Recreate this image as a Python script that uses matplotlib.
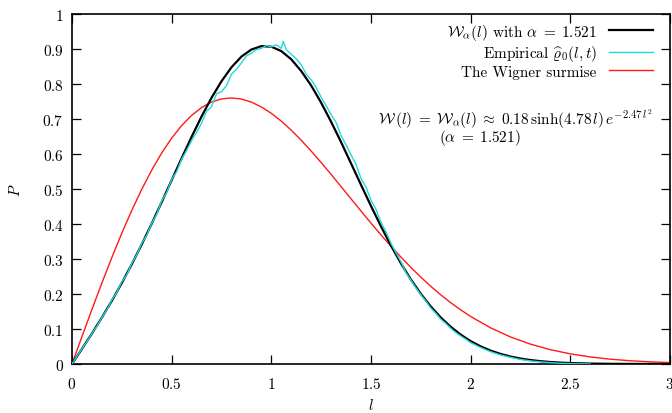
import matplotlib
matplotlib.use("Agg")
import matplotlib.pyplot as plt
import numpy as np

plt.rcParams['mathtext.fontset'] = 'cm'
plt.rcParams['font.family'] = ['cmr10', 'DejaVu Serif']
plt.rcParams['axes.formatter.use_mathtext'] = True

# Model curve W_alpha(l)
l_model = [0.00, 0.05, 0.10, 0.15, 0.20, 0.25, 0.30, 0.35, 0.40, 0.45,
           0.50, 0.55, 0.60, 0.65, 0.70, 0.75, 0.80, 0.85, 0.90, 0.95,
           1.00, 1.05, 1.10, 1.15, 1.20, 1.25, 1.30, 1.35, 1.40, 1.45,
           1.50, 1.55, 1.60, 1.65, 1.70, 1.75, 1.80, 1.85, 1.90, 1.95,
           2.00, 2.05, 2.10, 2.15, 2.20, 2.25, 2.30, 2.35, 2.40, 2.45,
           2.50, 2.60, 2.70, 2.80, 2.90, 3.00]
w_model = [0.0, 0.0432, 0.0872, 0.1328, 0.1808, 0.2315, 0.2852, 0.3419, 0.4012, 0.4626,
           0.5252, 0.5878, 0.6490, 0.7072, 0.7607, 0.8079, 0.8477, 0.8784, 0.8985, 0.9082,
           0.9066, 0.8940, 0.8705, 0.8369, 0.7955, 0.7464, 0.6920, 0.6338, 0.5729, 0.5117,
           0.4514, 0.3934, 0.3386, 0.2877, 0.2416, 0.2004, 0.1642, 0.1329, 0.1062, 0.0838,
           0.0653, 0.0503, 0.0383, 0.0288, 0.0213, 0.0156, 0.0113, 0.0081, 0.0057, 0.0040,
           0.0027, 0.0012, 0.0005, 0.0002, 0.0001, 0.0]

# Empirical curve
l_emp = [0.000, 0.025, 0.050, 0.075, 0.100, 0.125, 0.150, 0.175, 0.200, 0.225,
         0.250, 0.275, 0.300, 0.325, 0.350, 0.375, 0.400, 0.425, 0.450, 0.475,
         0.500, 0.525, 0.550, 0.575, 0.600, 0.625, 0.650, 0.675, 0.700, 0.725,
         0.750, 0.775, 0.800, 0.825, 0.850, 0.875, 0.900, 0.925, 0.950, 0.975,
         1.000, 1.025, 1.050, 1.060, 1.075, 1.100, 1.125, 1.150, 1.175, 1.200,
         1.225, 1.250, 1.275, 1.300, 1.325, 1.350, 1.375, 1.400, 1.425, 1.450,
         1.475, 1.500, 1.525, 1.550, 1.575, 1.600, 1.625, 1.650, 1.675, 1.700,
         1.725, 1.750, 1.775, 1.800, 1.825, 1.850, 1.875, 1.900, 1.925, 1.950,
         1.975, 2.000, 2.050, 2.100, 2.150, 2.200, 2.250, 2.300, 2.350, 2.400,
         2.450, 2.500, 2.600]
p_emp = [0.000, 0.022, 0.044, 0.064, 0.088, 0.108, 0.133, 0.155, 0.183, 0.205,
         0.235, 0.255, 0.288, 0.312, 0.345, 0.368, 0.402, 0.428, 0.466, 0.490,
         0.527, 0.550, 0.585, 0.610, 0.638, 0.662, 0.688, 0.722, 0.735, 0.772,
         0.778, 0.795, 0.828, 0.842, 0.860, 0.880, 0.888, 0.898, 0.902, 0.910,
         0.906, 0.912, 0.902, 0.922, 0.898, 0.885, 0.872, 0.855, 0.828, 0.812,
         0.790, 0.762, 0.738, 0.712, 0.690, 0.652, 0.626, 0.597, 0.570, 0.530,
         0.505, 0.468, 0.442, 0.405, 0.378, 0.345, 0.318, 0.292, 0.262, 0.240,
         0.218, 0.198, 0.180, 0.160, 0.145, 0.128, 0.116, 0.102, 0.090, 0.080,
         0.071, 0.061, 0.047, 0.035, 0.026, 0.019, 0.013, 0.009, 0.006, 0.004,
         0.002, 0.001, 0.000]

# Wigner surmise
l_wig = [0.00, 0.05, 0.10, 0.15, 0.20, 0.25, 0.30, 0.35, 0.40, 0.45,
         0.50, 0.55, 0.60, 0.65, 0.70, 0.75, 0.80, 0.85, 0.90, 0.95,
         1.00, 1.05, 1.10, 1.15, 1.20, 1.25, 1.30, 1.35, 1.40, 1.45,
         1.50, 1.55, 1.60, 1.65, 1.70, 1.75, 1.80, 1.85, 1.90, 1.95,
         2.00, 2.10, 2.20, 2.30, 2.40, 2.50, 2.60, 2.70, 2.80, 2.90, 3.00]
p_wig = [0.0, 0.0784, 0.1558, 0.2315, 0.3044, 0.3739, 0.4391, 0.4994, 0.5541, 0.6030,
         0.6454, 0.6812, 0.7103, 0.7327, 0.7484, 0.7574, 0.7601, 0.7570, 0.7483, 0.7345,
         0.7161, 0.6939, 0.6680, 0.6393, 0.6083, 0.5755, 0.5416, 0.5068, 0.4718, 0.4369,
         0.4024, 0.3689, 0.3365, 0.3055, 0.2759, 0.2481, 0.2219, 0.1976, 0.1752, 0.1546,
         0.1358, 0.1033, 0.0772, 0.0567, 0.0409, 0.0290, 0.0202, 0.0138, 0.0093, 0.0062, 0.0040]

x_ticks = [0, 0.5, 1, 1.5, 2, 2.5, 3]
x_tick_labels = ['0', '0.5', '1', '1.5', '2', '2.5', '3']
y_ticks = [0, 0.1, 0.2, 0.3, 0.4, 0.5, 0.6, 0.7, 0.8, 0.9, 1]
y_tick_labels = ['0', '0.1', '0.2', '0.3', '0.4', '0.5', '0.6', '0.7', '0.8', '0.9', '1']

fig = plt.figure(figsize=(6.72, 4.14), dpi=100)
ax = fig.add_axes([72/672, 49/414, 598/672, 350/414])

ax.plot(l_wig, p_wig, color='#ff1a1a', lw=1.0, label='The Wigner surmise', zorder=2)
ax.plot(l_model, w_model, color='black', lw=1.6,
        label=r'$\mathcal{W}_\alpha(l)$ with $\alpha\;=\;1.521$', zorder=3)
ax.plot(l_emp, p_emp, color='#22d8dc', lw=1.0,
        label=r'Empirical $\widehat{\varrho}_0(l,t)$', zorder=4)

ax.set_xlim(0, 3)
ax.set_ylim(0, 1)
ax.set_xticks(x_ticks)
ax.set_xticklabels(['$' + t + '$' for t in x_tick_labels])
ax.set_yticks(y_ticks)
ax.set_yticklabels(['$' + t + '$' for t in y_tick_labels])
ax.tick_params(direction='in', length=6.5, width=0.9, top=True, right=True, labelsize=11)
ax.tick_params(axis='x', pad=9)
ax.tick_params(axis='y', pad=6)
for s in ax.spines.values():
    s.set_linewidth(1.2)

ax.set_xlabel(r'$l$', fontsize=11, labelpad=4)
ax.set_ylabel(r'$P$', fontsize=11, labelpad=14)

handles, labels = ax.get_legend_handles_labels()
order = [1, 2, 0]
ax.legend([handles[i] for i in order], [labels[i] for i in order],
          loc='upper right', bbox_to_anchor=(0.972, 0.978), frameon=False,
          markerfirst=False, fontsize=11, handlelength=2.9, handletextpad=0.8,
          labelspacing=0.1, borderpad=0, borderaxespad=0)

ax.text((652-72)/598, (365-125)/350,
        r'$\mathcal{W}\,(l)\;=\;\mathcal{W}_\alpha(l)\;\approx\;0.18\,\sinh(4.78\,l)\,e^{-2.47\,l^2}$',
        transform=ax.transAxes, ha='right', va='baseline', fontsize=11)
ax.text((480-72)/598, (365-142.5)/350, r'$(\alpha\;=\;1.521)$',
        transform=ax.transAxes, ha='center', va='baseline', fontsize=11)

fig.savefig('out.png', dpi=100)
